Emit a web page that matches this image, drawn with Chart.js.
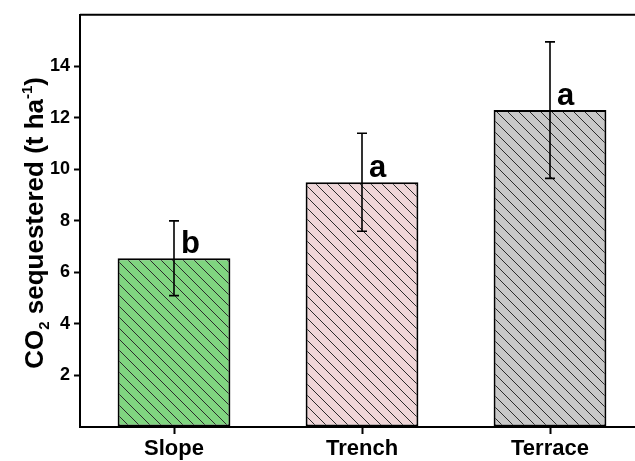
<!DOCTYPE html>
<html>
<head>
<meta charset="utf-8">
<script src="https://cdn.jsdelivr.net/npm/chart.js@4/dist/chart.umd.min.js"></script>
<style>
  html, body { margin: 0; padding: 0; background: #fff; overflow: hidden; }
  #wrap { width: 660px; height: 461px; }
</style>
</head>
<body>
<div id="wrap"><canvas id="c" width="660" height="461"></canvas></div>
<script>
// Treatments and CO2 sequestration (t/ha), mean and standard deviation
const categories = ['Slope', 'Trench', 'Terrace'];
const meanValues = [6.55, 9.5, 12.3];
const sdValues = [1.45, 1.9, 2.65];
const groupLetters = ['b', 'a', 'a'];
const fillColors = ['#80d580', '#efd6d8', '#c8c8c8'];
const yTicks = [2, 4, 6, 8, 10, 12, 14];

const FONT = '"Liberation Sans", Arial, Helvetica, sans-serif';

// Diagonal "\\" hatch on top of a solid fill
function hatch(bg) {
  const s = 11;
  const p = document.createElement('canvas');
  p.width = s; p.height = s;
  const g = p.getContext('2d');
  g.fillStyle = bg;
  g.fillRect(0, 0, s, s);
  g.strokeStyle = '#2b2b2b';
  g.lineWidth = 1;
  g.beginPath();
  g.moveTo(-1, -1); g.lineTo(s + 1, s + 1);
  g.moveTo(-1, s - 1); g.lineTo(1, s + 1);
  g.moveTo(s - 1, -1); g.lineTo(s + 1, 1);
  g.stroke();
  return document.getElementById('c').getContext('2d').createPattern(p, 'repeat');
}

// Error bars and significance letters
const errorBars = {
  id: 'errorBars',
  afterDatasetsDraw(chart) {
    const ctx = chart.ctx;
    const y = chart.scales.y;
    const meta = chart.getDatasetMeta(0);
    ctx.save();
    meta.data.forEach((bar, i) => {
      const x = bar.x;
      const yHi = y.getPixelForValue(meanValues[i] + sdValues[i]);
      const yLo = y.getPixelForValue(meanValues[i] - sdValues[i]);
      ctx.strokeStyle = '#000';
      ctx.lineWidth = 1.6;
      ctx.beginPath();
      ctx.moveTo(x, yHi); ctx.lineTo(x, yLo);
      ctx.moveTo(x - 5, yHi); ctx.lineTo(x + 5, yHi);
      ctx.moveTo(x - 5, yLo); ctx.lineTo(x + 5, yLo);
      ctx.stroke();
      ctx.fillStyle = '#000';
      ctx.font = 'bold 31px ' + FONT;
      ctx.textAlign = 'left';
      ctx.textBaseline = 'alphabetic';
      ctx.fillText(groupLetters[i], x + 7, y.getPixelForValue(meanValues[i]) - 5);
    });
    ctx.restore();
  }
};

// Frame line along the top and the rotated y-axis title with sub/superscripts
const frameAndTitle = {
  id: 'frameAndTitle',
  afterDraw(chart) {
    const ctx = chart.ctx;
    const a = chart.chartArea;
    ctx.save();
    ctx.strokeStyle = '#000';
    ctx.lineWidth = 2;
    ctx.beginPath();
    ctx.moveTo(a.left, a.top); ctx.lineTo(a.right, a.top); ctx.lineTo(a.right, a.bottom);
    ctx.stroke();

    const parts = [
      { t: 'CO', size: 26, dy: 0 },
      { t: '2', size: 15, dy: 6 },
      { t: ' sequestered (t ha', size: 26, dy: 0 },
      { t: '-1', size: 15, dy: -11 },
      { t: ')', size: 26, dy: 0 }
    ];
    let total = 0;
    parts.forEach(p => { ctx.font = 'bold ' + p.size + 'px ' + FONT; p.w = ctx.measureText(p.t).width; total += p.w; });
    ctx.translate(43, (a.top + a.bottom) / 2 + 2);
    ctx.rotate(-Math.PI / 2);
    ctx.fillStyle = '#000';
    ctx.textBaseline = 'alphabetic';
    ctx.textAlign = 'left';
    let cx = -total / 2;
    parts.forEach(p => {
      ctx.font = 'bold ' + p.size + 'px ' + FONT;
      ctx.fillText(p.t, cx, p.dy);
      cx += p.w;
    });
    ctx.restore();
  }
};

new Chart(document.getElementById('c'), {
  type: 'bar',
  data: {
    labels: categories,
    datasets: [{
      data: meanValues,
      backgroundColor: fillColors.map(hatch),
      borderColor: '#000',
      borderWidth: 2,
      borderSkipped: false,
      categoryPercentage: 1,
      barPercentage: 0.6
    }]
  },
  options: {
    responsive: false,
    animation: false,
    layout: { padding: { top: 14, right: 16, left: 0, bottom: 0 } },
    plugins: { legend: { display: false }, tooltip: { enabled: false } },
    scales: {
      x: {
        afterFit(s) { s.height = 34; },
        grid: { display: true, offset: false, drawOnChartArea: false, tickLength: 7, tickWidth: 2, tickColor: '#000' },
        border: { color: '#000', width: 2 },
        ticks: { color: '#000', padding: 2, font: { family: FONT, size: 22, weight: 'bold' } }
      },
      y: {
        min: 0, max: 16,
        afterFit(s) { s.width = 80; },
        afterBuildTicks(s) { s.ticks = [0].concat(yTicks, [16]).map(v => ({ value: v })); },
        grid: {
          drawOnChartArea: false, tickLength: 6, tickWidth: 2,
          tickColor: c => yTicks.includes(c.tick && c.tick.value) ? '#000' : 'rgba(0,0,0,0)'
        },
        border: { color: '#000', width: 2 },
        ticks: {
          color: '#000', padding: 4,
          font: { family: FONT, size: 18, weight: 'bold' },
          callback: v => yTicks.includes(v) ? String(v) : ''
        }
      }
    }
  },
  plugins: [errorBars, frameAndTitle]
});
</script>
</body>
</html>
